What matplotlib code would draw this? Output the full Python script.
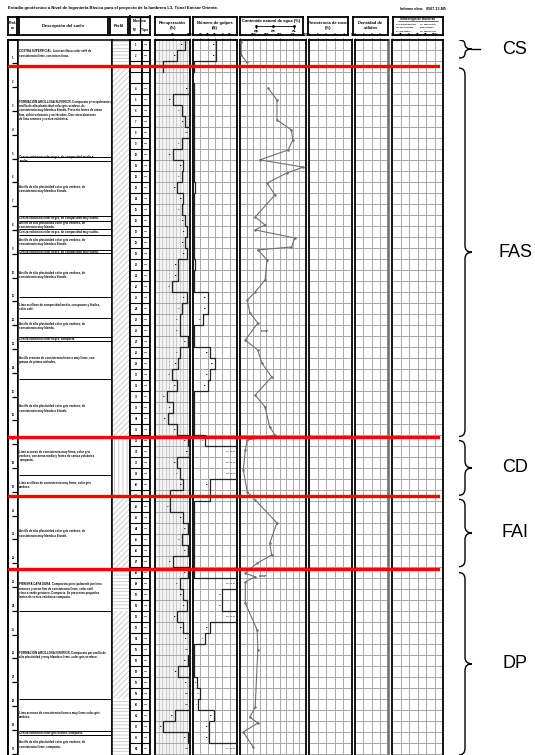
import numpy as np
import matplotlib
matplotlib.use("Agg")
import matplotlib.pyplot as plt
from matplotlib.path import Path
from matplotlib.patches import PathPatch, Rectangle
import textwrap

plt.rcParams['font.family'] = ['Liberation Sans', 'DejaVu Sans']
plt.rcParams['hatch.linewidth'] = 0.6

# ---------------------------------------------------------------- data
title = ("Estudio geotécnico a Nivel de Ingeniería Básica para el proyecto "
         "de la lumbrera L3, Túnel Emisor Oriente.")
report_no = "Informe obra:   0507-13-M5"

units = ["CS", "FAS", "CD", "FAI", "DP"]
unit_bounds = [1.11, 16.70, 19.18, 22.25]          # red lines (m)
brace_top = [0.02, 1.20, 16.85, 19.32, 22.40]
brace_bot = [0.78, 16.68, 19.15, 22.15, 30.06]

sample_no = ["1", "2", "3", ""] + [str(i) for i in range(4, 65)]
sample_type = ["SPT", "SPT", "SPT", "-"] + ["SPT"] * 61

recovery = [85, 63, 23, np.nan, 98, 51, 77, 86, 100, 77,
            51, 80, 77, 63, 80, 77, 86, 91, 86, 91,
            66, 66, 48, 91, 77, 71, 71, 94, 71, 66,
            48, 63, 34, 51, 37, 63, 94, 98, 63, 71,
            80, 43, 43, 80, 94, 77, 94, 51, 94, 71,
            80, 91, 63, 80, 97, 100, 94, 66, 97, 100,
            100, 57, 23, 94, 100]

blows = [32, 32, 1, np.nan, 1, 1, 1, 1, 1, 1,
         1, 1, 1, 3, 1, 1, 1, 1, 1, 2,
         3, 1, 1, 20, 20, 13, 1, 1, 23, 30,
         23, 20, 2, 2, 2, 2, 17, 60, 60, 60,
         23, 23, 1, 2, 1, 2, 1, 1, 2, 60,
         40, 40, 60, 23, 17, 1, 1, 1, 6, 10,
         7, 28, 22, 22, 60]

w_depth = [0.11, 0.65, 0.95, 1.50, 2.04, 2.54, 3.38, 3.80, 4.22,
           4.64, 5.06, 5.36, 5.61, 6.03, 6.53, 7.46, 7.79, 8.00, 8.34,
           8.72, 8.84, 9.26, 10.10, 10.61, 10.95, 11.49, 11.91, 12.63,
           13.05, 13.59, 14.18, 14.94, 15.44, 16.28, 16.62, 16.83, 17.25,
           18.09, 19.01, 19.35, 20.31, 21.16, 21.66, 22.00, 22.42, 22.58,
           22.79, 23.68, 24.81, 25.65, 28.05, 28.47, 28.72, 29.10, 29.73]
w_value = [8, 10, 50, np.nan, 212, 280, 280, 390, 400,
           365, 150, 480, 355, 205, 265, 115, 190, 115, 415,
           390, 135, 205, 190, 115, 55, 75, 135, 40,
           135, 165, 240, 115, 190, 225, 265, 55, 40,
           25, 55, 115, 280, 225, 240, 130, 40, 115,
           40, 40, 130, 135, 115, 75, 135, 25, 100]

layer_lines = [4.94, 5.12, 7.40, 7.62, 7.97, 8.21, 8.84, 8.99, 10.82, 11.70,
               12.48, 12.66, 14.26, 18.30, 24.01, 27.71, 29.05, 29.24]

desc_depth = [0.57, 2.96, 5.03, 6.28, 7.51, 7.79, 8.09, 8.50, 8.91, 9.90,
              11.24, 12.04, 12.57, 13.47, 15.50, 17.50, 18.72, 20.76,
              23.17, 25.86, 28.38, 29.14, 29.62]
desc_text = [
    "COSTRA SUPERFICIAL. Limo arcilloso color café de consistencia firme, con raíces finas.",
    "FORMACIÓN ARCILLOSA SUPERIOR. Compuesta principalmente de arcilla de alta plasticidad "
    "color gris verdoso, de consistencia muy blanda a blanda. Presenta lentes de arena fina, "
    "vidrio volcánico y ostrácodos. Con intercalaciones de limo arenoso y ceniza volcánica.",
    "Ceniza volcánica color negro, de compacidad media a suelta.",
    "Arcilla de alta plasticidad color gris verdoso, de consistencia muy blanda a blanda.",
    "Ceniza volcánica color negro, de compacidad muy suelta.",
    "Arcilla de alta plasticidad color gris verdoso, de consistencia muy blanda.",
    "Ceniza volcánica color negro, de compacidad muy suelta.",
    "Arcilla de alta plasticidad color gris verdoso, de consistencia muy blanda a blanda.",
    "Ceniza volcánica color negro, de compacidad muy suelta.",
    "Arcilla de alta plasticidad color gris verdoso, de consistencia muy blanda a blanda.",
    "Limo arcilloso de compacidad media, con gravas y fósiles, color café.",
    "Arcilla de alta plasticidad color gris verdoso, de consistencia muy blanda.",
    "Ceniza volcánica color negro, compacta.",
    "Arcilla arenosa de consistencia firme a muy firme, con gravas de pómez aislados.",
    "Arcilla de alta plasticidad color gris verdoso, de consistencia muy blanda a blanda.",
    "Limo arenoso de consistencia muy firme, color gris verdoso, con arena media y lentes "
    "de ceniza volcánica compacta.",
    "Limo arcilloso de consistencia muy firme, color gris verdoso.",
    "Arcilla de alta plasticidad color gris verdoso, de consistencia muy blanda a blanda.",
    "PRIMERA CAPA DURA. Compuesta principalmente por limo arenoso y arena fina de "
    "consistencia firme, color café claro a verde grisáceo. Compacta. Se presentan "
    "pequeños lentes de ceniza volcánica compacta.",
    "FORMACIÓN ARCILLOSA INFERIOR. Compuesta por arcilla de alta plasticidad y muy "
    "blanda a firme, color gris verdoso.",
    "Limo arenoso de consistencia firme a muy firme color gris verdoso.",
    "Ceniza volcánica color gris oscuro, compacta.",
    "Arcilla de alta plasticidad color gris verdoso, de consistencia firme, compacta.",
]

perfil_top = [0.00, 1.11, 16.70, 19.18, 22.25, 24.01, 27.71]
perfil_bot = [1.11, 16.70, 19.18, 22.25, 24.01, 27.71, 30.10]
perfil_hatch = ["-----", "//////", "||||", "//////", "-----", "//////", "-----"]

rec_ticks = [0, 50, 100]
blow_ticks = [0, 10, 20, 30, 40, 50]
wc_ticks = [0, 100, 200, 300, 400, 500]
c8_ticks = [0, 1, 2, 3, 4, 5]
c9_ticks = [0, 1, 2, 3]
c10_ticks = [0, 20, 40, 60, 80, 100]

hdr_prof = "Prof.\nm"
hdr_desc = "Descripción del suelo"
hdr_perfil = "Perfil"
hdr_muestra = "Muestra"
hdr_rec = "Recuperación\n(%)"
hdr_blow = "Número de golpes\n(N)"
hdr_wc = "Contenido natural de agua (%)"
hdr_c8 = "Resistencia de rocas\n(%)"
hdr_c9 = "Densidad de\nsólidos"
legend_title = "Simbología de muestras"
legend_items = ["SPT: Penetración est.", "TS: Tubo Shelby",
                "TD: Tubo dentado", "DEN: Denison",
                "SA: Sin avance", "TP: Tubo partido"]

# ---------------------------------------------------------------- layout
W, H = 535, 755
PX_PER_M = 23.8
BODY_TOP, BODY_BOT = 39.5, 755.0
D_BOT = (BODY_BOT - BODY_TOP) / PX_PER_M
ROW_H = 0.462
HDR_T, HDR_B = 16.5, 35.0
GRID = "#a8a8a8"

fig = plt.figure(figsize=(W / 100, H / 100), dpi=100)
fig.patch.set_facecolor("white")


def add_ax(x0, x1, y0, y1, z=1):
    ax = fig.add_axes([x0 / W, 1 - y1 / H, (x1 - x0) / W, (y1 - y0) / H])
    ax.set_zorder(z)
    return ax


def clean(ax, lw=1.1):
    ax.set_xticks([])
    ax.set_yticks([])
    for s in ax.spines.values():
        s.set_linewidth(lw)
        s.set_color("black")


def body(x0, x1, xlim=(0, 1), lw=1.1):
    ax = add_ax(x0, x1, BODY_TOP, BODY_BOT)
    ax.set_xlim(*xlim)
    ax.set_ylim(D_BOT, 0)
    clean(ax, lw)
    ax.spines["bottom"].set_visible(False)
    return ax


n_rows = len(recovery)
row_top = np.arange(n_rows) * ROW_H
row_bot = row_top + ROW_H
row_mid = row_top + ROW_H / 2

# ---------------------------------------------------------------- title
fig.text(8 / W, 1 - 8.5 / H, title, fontsize=3.1, fontweight="bold",
         ha="left", va="center")
fig.text(400 / W, 1 - 8.5 / H, report_no, fontsize=2.6, fontweight="bold",
         ha="left", va="center")

# ---------------------------------------------------------------- headers
def header(x0, x1, txt, fs=3.0):
    ax = add_ax(x0, x1, HDR_T, HDR_B)
    clean(ax, 1.3)
    if txt:
        ax.text(0.5, 0.5, txt, ha="center", va="center", fontsize=fs,
                fontweight="bold", transform=ax.transAxes, linespacing=1.2)
    return ax


header(8, 17, hdr_prof, 2.6)
header(19, 108, hdr_desc)
header(110, 128, hdr_perfil)
axm = header(130, 150, "")
axm.axhline(0.5, color="black", lw=0.9)
axm.plot([0.45, 0.45], [0, 0.5], color="black", lw=0.9)
axm.text(0.5, 0.75, hdr_muestra, ha="center", va="center", fontsize=2.6,
         fontweight="bold", transform=axm.transAxes)
axm.text(0.22, 0.25, "N°", ha="center", va="center", fontsize=2.4,
         fontweight="bold", transform=axm.transAxes)
axm.text(0.72, 0.25, "Tipo", ha="center", va="center", fontsize=2.4,
         fontweight="bold", transform=axm.transAxes)
header(155, 190, hdr_rec)
header(193, 237, hdr_blow)
axw = header(240, 303, "")
axw.set_xlim(0, 1)
axw.set_ylim(0, 1)
axw.text(0.5, 0.78, hdr_wc, ha="center", va="center", fontsize=2.9,
         fontweight="bold")
axw.plot([0.25, 0.85], [0.48, 0.48], color="black", lw=0.6)
axw.plot([0.25, 0.52, 0.85], [0.48, 0.48, 0.48], "o", color="black", ms=1.0)
axw.plot([0.25, 0.25], [0.40, 0.56], color="black", lw=0.6)
axw.plot([0.85, 0.85], [0.40, 0.56], color="black", lw=0.6)
for xx, lab in zip([0.25, 0.52, 0.85], ["wp", "wn", "wL"]):
    axw.text(xx, 0.2, lab, ha="center", va="center", fontsize=2.4,
             fontweight="bold")
header(308, 348, hdr_c8)
header(353, 388, hdr_c9)
axl = header(393, 443, "")
axl.set_xlim(0, 1)
axl.set_ylim(0, 1)
axl.text(0.5, 0.86, legend_title, ha="center", va="center", fontsize=2.2,
         fontweight="bold")
axl.plot([0.1, 0.9], [0.75, 0.75], color="black", lw=0.4)
for k, it in enumerate(legend_items):
    axl.text(0.05 + 0.5 * (k % 2), 0.59 - 0.2 * (k // 2), it, ha="left",
             va="center", fontsize=1.45, fontweight="bold")

# ---------------------------------------------------------------- depth
axd = body(8, 18, lw=1.4)
for d in range(1, int(D_BOT) + 1):
    axd.hlines(d, 0.35, 1.0, color="black", lw=0.9)
    axd.text(0.5, d - 0.12, str(d), fontsize=2.0, ha="center", va="bottom",
             fontweight="bold")

# ---------------------------------------------------------------- description
axs = body(18, 112)
for d in layer_lines:
    axs.hlines(d, 0.01, 0.985, color="black", lw=0.7)
for d, t in zip(desc_depth, desc_text):
    axs.text(0.015, d, textwrap.fill(t, 58), fontsize=2.05, fontweight="bold",
             ha="left", va="center", linespacing=1.1)

# ---------------------------------------------------------------- perfil
axp = body(112, 130)
for t, b, h in zip(perfil_top, perfil_bot, perfil_hatch):
    axp.add_patch(Rectangle((0, t), 1, b - t, facecolor="white",
                            edgecolor="#c4c4c4", hatch=h, lw=0))

# ---------------------------------------------------------------- samples
axn = body(130, 142, lw=1.3)
axt = body(142, 150, lw=1.3)
for ax in (axn, axt):
    ax.hlines(row_bot, 0, 1, color="black", lw=0.8)
for m, n, tp in zip(row_mid, sample_no, sample_type):
    axn.text(0.5, m, n, fontsize=1.9, ha="center", va="center",
             fontweight="bold")
    axt.text(0.5, m, tp, fontsize=1.6, ha="center", va="center",
             fontweight="bold")


# ---------------------------------------------------------------- data cols
def grid_col(ax, xs, color=GRID, lw=0.7):
    ax.vlines(xs, 0, D_BOT, color=color, lw=lw, zorder=0)
    ax.hlines(row_bot, ax.get_xlim()[0], ax.get_xlim()[1], color=GRID,
              lw=0.7, zorder=0)


def top_ticks(ax, ticks):
    ax.xaxis.tick_top()
    ax.set_xticks(ticks)
    ax.set_xticklabels([str(t) for t in ticks], fontsize=2.3,
                       fontweight="bold")
    ax.tick_params(axis="x", length=1.2, width=0.5, pad=0.4)


def step_xy(vals):
    xs, ys = [], []
    for v, t, b in zip(vals, row_top, row_bot):
        xs += [v, v]
        ys += [t, b]
    return np.array(xs, float), np.array(ys, float)


# recovery
axr = body(155, 190, (0, 100), lw=1.3)
axr.set_facecolor("#f3f3f3")
grid_col(axr, np.arange(10, 100, 10), color="#c6c6c6", lw=0.6)
top_ticks(axr, rec_ticks)
xs, ys = step_xy(recovery)
axr.plot(xs, ys, color="#222222", lw=0.9, zorder=3)
for v, m in zip(recovery, row_mid):
    if np.isfinite(v):
        axr.text(v - 3, m, f"{v:.0f}", fontsize=1.6, ha="right",
                 va="center", fontweight="bold", zorder=4)

# blows
axb = body(193, 237, (0, 60), lw=1.3)
grid_col(axb, np.arange(10, 60, 10))
top_ticks(axb, blow_ticks)
xs, ys = step_xy(blows)
axb.plot(xs, ys, color="#222222", lw=0.9, zorder=3)
for v, m in zip(blows, row_mid):
    if np.isfinite(v):
        if v >= 60:
            axb.text(57, m, "50/15 \u21d2", fontsize=1.7, ha="right",
                     va="center", fontweight="bold", color="#444444")
        else:
            axb.text(v - 1.5, m, f"{v:.0f}", fontsize=1.6, ha="right",
                     va="center", fontweight="bold", clip_on=False, zorder=4)

# water content
axc = body(240, 306, (0, 500), lw=1.3)
grid_col(axc, np.arange(50, 500, 50))
top_ticks(axc, wc_ticks)
axc.plot(w_value, w_depth, color="#707070", lw=0.8, marker="o", ms=0.8,
         zorder=3)
axc.text(160, 12.25, "LL=260\nLP=70", fontsize=1.7, ha="left", va="center",
         fontweight="bold")
axc.text(140, 22.55, "LL=160\nLP=45", fontsize=1.7, ha="left", va="center",
         fontweight="bold")

# empty columns
ax8 = body(309, 352, (0, 5), lw=1.3)
grid_col(ax8, np.arange(1, 5))
top_ticks(ax8, c8_ticks)
ax9 = body(355, 388, (0, 4), lw=1.3)
grid_col(ax9, np.arange(1, 4))
top_ticks(ax9, c9_ticks)
ax9.spines["right"].set_color("#777777")
ax9.spines["right"].set_linewidth(2.0)
ax10 = body(392, 443, (0, 120), lw=1.3)
grid_col(ax10, np.arange(20, 120, 20))
top_ticks(ax10, c10_ticks)

# ---------------------------------------------------------------- red lines
axo = add_ax(8, 440, BODY_TOP, BODY_BOT, z=10)
axo.set_ylim(D_BOT, 0)
axo.set_xlim(0, 1)
axo.axis("off")
for d in unit_bounds:
    axo.axhline(d, color="#ff0000", lw=2.4)

# ---------------------------------------------------------------- braces
axbr = add_ax(448, 535, BODY_TOP, BODY_BOT, z=10)
axbr.set_ylim(D_BOT, 0)
axbr.set_xlim(448, 535)
axbr.axis("off")


def brace(ax, d0, d1, xl, xm, xr, r):
    mid = (d0 + d1) / 2
    r = min(r, (d1 - d0) / 4)
    verts = [(xl, d0), (xm, d0), (xm, d0 + r),
             (xm, mid - r),
             (xm, mid), (xr, mid),
             (xm, mid), (xm, mid + r),
             (xm, d1 - r),
             (xm, d1), (xl, d1)]
    codes = [Path.MOVETO, Path.CURVE3, Path.CURVE3,
             Path.LINETO,
             Path.CURVE3, Path.CURVE3,
             Path.CURVE3, Path.CURVE3,
             Path.LINETO,
             Path.CURVE3, Path.CURVE3]
    ax.add_patch(PathPatch(Path(verts, codes), fill=False, lw=1.0,
                           color="black"))
    return mid


for name, t, b in zip(units, brace_top, brace_bot):
    mid = brace(axbr, t, b, 459, 465, 472, 0.28)
    if name == "CS":
        axbr.plot([472, 480], [mid, mid], color="black", lw=1.0)
    axbr.text(515, mid, name, fontsize=13, ha="center", va="center")

fig.savefig("out.png", dpi=100, facecolor="white")
